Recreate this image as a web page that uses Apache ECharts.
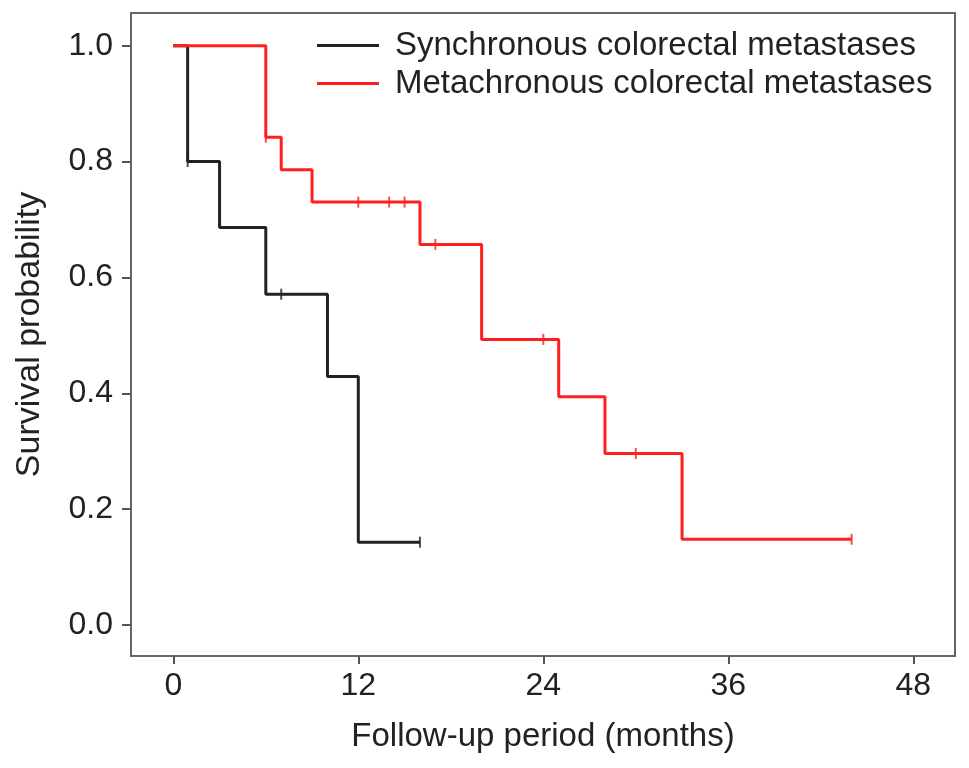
<!DOCTYPE html>
<html>
<head>
<meta charset="utf-8">
<script src="https://cdn.jsdelivr.net/npm/echarts@6/dist/echarts.min.js"></script>
<style>
html,body{margin:0;padding:0;background:#fff;}
#chart{width:969px;height:768px;}
</style>
</head>
<body>
<div id="chart"></div>
<script>
// Kaplan-Meier step data (months, survival probability)
var syncTimes = [0, 0.93, 3, 6, 10, 12, 16];
var syncSurv  = [1.0, 0.8, 0.686, 0.571, 0.429, 0.143, 0.143];
var syncCensorTimes = [0.93, 7, 16];
var syncCensorSurv  = [0.8, 0.571, 0.143];

var metaTimes = [0, 6, 7, 9, 16, 20, 25, 28, 33, 44];
var metaSurv  = [1.0, 0.842, 0.786, 0.730, 0.657, 0.493, 0.394, 0.296, 0.148, 0.148];
var metaCensorTimes = [6, 12, 14, 15, 17, 24, 30, 44];
var metaCensorSurv  = [0.842, 0.730, 0.730, 0.730, 0.657, 0.493, 0.296, 0.148];

var xTicks = [0, 12, 24, 36, 48];
var yTicks = [0.0, 0.2, 0.4, 0.6, 0.8, 1.0];
// plotted range (axis extends slightly beyond the tick range, as in the reference)
var xRange = [-2.744, 50.705];
var yRange = [-0.0535, 1.0564];

var seriesNames = ['Synchronous colorectal metastases', 'Metachronous colorectal metastases'];
var colors = ['#222222', '#ff1f1f'];

function pairs(xs, ys) { return xs.map(function (x, i) { return [x, ys[i]]; }); }

var FONT = '"Liberation Sans", Arial, Helvetica, sans-serif';
var chart = echarts.init(document.getElementById('chart'), null, {renderer: 'canvas'});

var axisLineStyle = {color: '#666', width: 2};
var option = {
  backgroundColor: '#ffffff',
  animation: false,
  textStyle: {fontFamily: FONT, color: '#222'},
  grid: {left: 131, right: 14, top: 13, bottom: 112, containLabel: false,
         show: true, borderColor: '#666', borderWidth: 2, backgroundColor: 'transparent'},
  xAxis: {
    type: 'value', min: xRange[0], max: xRange[1],
    axisLine: {show: true, onZero: false, lineStyle: axisLineStyle},
    axisTick: {show: true, length: 8, customValues: xTicks, lineStyle: {color: '#555', width: 2}},
    axisLabel: {fontSize: 32, color: '#222', margin: 14, fontFamily: FONT, customValues: xTicks},
    splitLine: {show: false},
    name: 'Follow-up period (months)', nameLocation: 'middle', nameGap: 64,
    nameTextStyle: {fontSize: 33, color: '#222', fontFamily: FONT}
  },
  yAxis: {
    type: 'value', min: yRange[0], max: yRange[1],
    axisLine: {show: true, onZero: false, lineStyle: axisLineStyle},
    axisTick: {show: true, length: 9, customValues: yTicks, lineStyle: {color: '#555', width: 2}},
    axisLabel: {fontSize: 32, color: '#222', margin: 18, fontFamily: FONT, customValues: yTicks,
      formatter: function (v) { return v.toFixed(1); }},
    splitLine: {show: false},
    name: 'Survival probability', nameLocation: 'middle', nameGap: 84, nameRotate: 90,
    nameTextStyle: {fontSize: 34, color: '#222', fontFamily: FONT}
  },
  legend: {
    data: seriesNames,
    orient: 'vertical', left: 312, top: 24,
    icon: 'rect', itemWidth: 62, itemHeight: 3, itemGap: 5,
    textStyle: {fontSize: 33, color: '#222', fontFamily: FONT, padding: [0, 0, 0, 11]},
    selectedMode: false
  },
  series: [
    {
      name: seriesNames[0], type: 'line', step: 'end', data: pairs(syncTimes, syncSurv),
      showSymbol: false, symbol: 'none', color: colors[0],
      lineStyle: {color: colors[0], width: 3}, z: 2
    },
    {
      name: 'syncCensor', type: 'scatter', data: pairs(syncCensorTimes, syncCensorSurv),
      symbol: 'rect', symbolSize: [2, 11], itemStyle: {color: colors[0]}, z: 3
    },
    {
      name: seriesNames[1], type: 'line', step: 'end', data: pairs(metaTimes, metaSurv),
      showSymbol: false, symbol: 'none', color: colors[1],
      lineStyle: {color: colors[1], width: 3}, z: 4
    },
    {
      name: 'metaCensor', type: 'scatter', data: pairs(metaCensorTimes, metaCensorSurv),
      symbol: 'rect', symbolSize: [2, 11], itemStyle: {color: colors[1]}, z: 5
    }
  ]
};
chart.setOption(option);
</script>
</body>
</html>
